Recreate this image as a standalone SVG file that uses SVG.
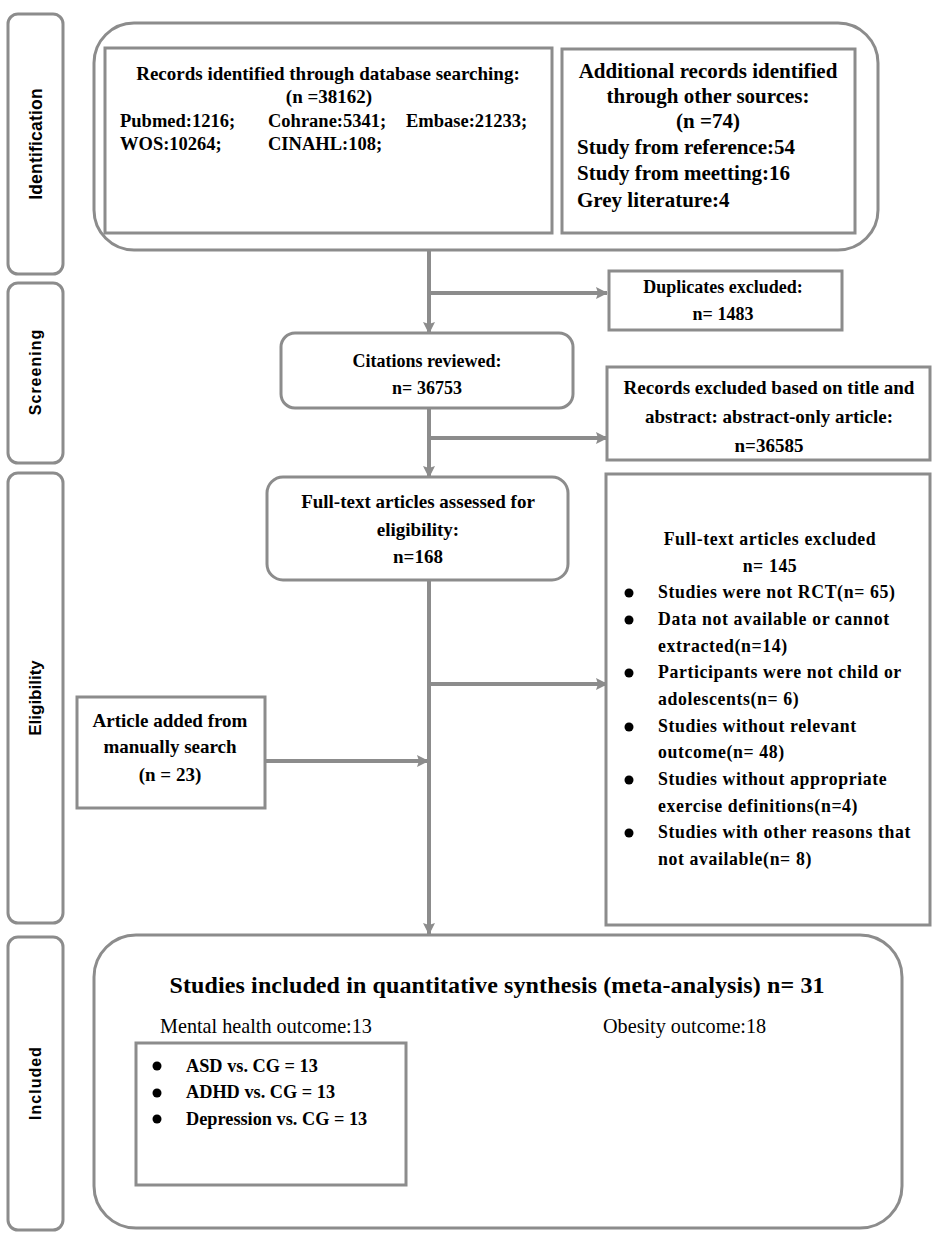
<svg xmlns="http://www.w3.org/2000/svg" width="935" height="1233" viewBox="0 0 935 1233">
<style>
.box{fill:#fff;stroke:#8c8c8c;stroke-width:3}
.side{fill:#fff;stroke:#8c8c8c;stroke-width:3}
.ln{fill:none;stroke:#8c8c8c;stroke-width:4}
.t{font-family:"Liberation Serif","Times New Roman",serif;font-weight:bold;fill:#000}
.tn{font-family:"Liberation Serif","Times New Roman",serif;fill:#000}
.c{text-anchor:middle}
.lab{font-family:"Liberation Sans",Arial,sans-serif;font-weight:bold;fill:#000;text-anchor:middle}
</style>
<defs>
<marker id="ah" viewBox="0 0 12 12" refX="11" refY="6" markerWidth="12" markerHeight="12" markerUnits="userSpaceOnUse" orient="auto">
<path d="M0,0 L12,6 L0,12 L2,6 Z" fill="#8c8c8c"/>
</marker>
</defs>
<g id="side-identification"><rect class="side" x="8" y="14" width="55" height="260" rx="10"/><text class="lab" font-size="17.5" letter-spacing="0.2" transform="translate(42,144) rotate(-90)">Identification</text></g>
<g id="side-screening"><rect class="side" x="8" y="283" width="55" height="180" rx="10"/><text class="lab" font-size="16" letter-spacing="1" transform="translate(41,372) rotate(-90)">Screening</text></g>
<g id="side-eligibility"><rect class="side" x="8" y="473" width="55" height="450" rx="10"/><text class="lab" font-size="17" transform="translate(41,698) rotate(-90)">Eligibility</text></g>
<g id="side-included"><rect class="side" x="8" y="937" width="55" height="293" rx="10"/><text class="lab" font-size="16" letter-spacing="1" transform="translate(41,1083) rotate(-90)">Included</text></g>

<g id="connectors">
<line class="ln" x1="429" y1="250" x2="429" y2="333" marker-end="url(#ah)"/>
<line class="ln" x1="429" y1="293" x2="607" y2="293" marker-end="url(#ah)"/>
<line class="ln" x1="429" y1="408" x2="429" y2="477" marker-end="url(#ah)"/>
<line class="ln" x1="429" y1="438" x2="607" y2="438" marker-end="url(#ah)"/>
<line class="ln" x1="429" y1="580" x2="429" y2="934" marker-end="url(#ah)"/>
<line class="ln" x1="429" y1="684" x2="607" y2="684" marker-end="url(#ah)"/>
<line class="ln" x1="265" y1="761" x2="428" y2="761" marker-end="url(#ah)"/>
</g>

<g id="identification">
<rect class="box" x="94" y="23" width="784" height="227" rx="40"/>
</g>
<g id="records-database">
<rect class="box" x="105" y="48" width="447" height="185"/>
<g class="t" font-size="19">
<text class="c" x="328" y="80">Records identified through database searching:</text>
<text class="c" x="329" y="103">(n =38162)</text>
</g>
<g class="t" font-size="18.5">
<text x="120" y="127">Pubmed:1216;</text>
<text x="268" y="127">Cohrane:5341;</text>
<text x="406" y="127">Embase:21233;</text>
<text x="120" y="150">WOS:10264;</text>
<text x="268" y="150">CINAHL:108;</text>
</g>
</g>
<g id="records-other">
<rect class="box" x="562" y="49" width="293" height="184"/>
<g class="t" font-size="21">
<text class="c" x="708" y="78">Additional records identified</text>
<text class="c" x="708" y="103">through other sources:</text>
<text class="c" x="708" y="128">(n =74)</text>
<text x="577" y="154">Study from reference:54</text>
<text x="577" y="180">Study from meetting:16</text>
<text x="577" y="207">Grey literature:4</text>
</g>
</g>
<g id="duplicates">
<rect class="box" x="609" y="271" width="233" height="59"/>
<g class="t" font-size="18">
<text class="c" x="723" y="293">Duplicates excluded:</text>
<text class="c" x="723" y="320">n= 1483</text>
</g>
</g>
<g id="citations">
<rect class="box" x="281" y="333" width="292" height="75" rx="14"/>
<g class="t" font-size="18">
<text class="c" x="427" y="367">Citations reviewed:</text>
<text class="c" x="427" y="394">n= 36753</text>
</g>
</g>
<g id="records-excluded">
<rect class="box" x="607" y="367" width="323" height="93"/>
<g class="t" font-size="19">
<text class="c" x="769" y="394">Records excluded based on title and</text>
<text class="c" x="769" y="423">abstract: abstract-only article:</text>
<text class="c" x="769" y="452">n=36585</text>
</g>
</g>
<g id="fulltext-assessed">
<rect class="box" x="267" y="477" width="301" height="103" rx="16"/>
<g class="t" font-size="19">
<text class="c" x="418" y="508">Full-text articles assessed for</text>
<text class="c" x="418" y="536">eligibility:</text>
<text class="c" x="418" y="563">n=168</text>
</g>
</g>
<g id="fulltext-excluded">
<rect class="box" x="606" y="474" width="324" height="451"/>
<g class="t" font-size="17.8" letter-spacing="0.6">
<text class="c" x="770" y="545">Full-text articles excluded</text>
<text class="c" x="770" y="572">n= 145</text>
<text x="658" y="598">Studies were not RCT(n= 65)</text>
<text x="658" y="625">Data not available or cannot</text>
<text x="658" y="652">extracted(n=14)</text>
<text x="658" y="678">Participants were not child or</text>
<text x="658" y="705">adolescents(n= 6)</text>
<text x="658" y="732">Studies without relevant</text>
<text x="658" y="758">outcome(n= 48)</text>
<text x="658" y="785">Studies without appropriate</text>
<text x="658" y="812">exercise definitions(n=4)</text>
<text x="658" y="838">Studies with other reasons that</text>
<text x="658" y="865">not available(n= 8)</text>
</g>
<circle cx="629" cy="593" r="4.5"/>
<circle cx="629" cy="620" r="4.5"/>
<circle cx="629" cy="673" r="4.5"/>
<circle cx="629" cy="727" r="4.5"/>
<circle cx="629" cy="780" r="4.5"/>
<circle cx="629" cy="833" r="4.5"/>
</g>
<g id="manual-search">
<rect class="box" x="77" y="697" width="188" height="111"/>
<g class="t" font-size="19">
<text class="c" x="170" y="727">Article added from</text>
<text class="c" x="170" y="753">manually search</text>
<text class="c" x="170" y="781">(n = 23)</text>
</g>
</g>
<g id="included">
<rect class="box" x="94" y="935" width="808" height="293" rx="42"/>
<text class="t c" x="497" y="993" font-size="24" textLength="655" lengthAdjust="spacing">Studies included in quantitative synthesis (meta-analysis) n= 31</text>
<g class="tn" font-size="20.2">
<text x="160" y="1033">Mental health outcome:13</text>
<text x="603" y="1033">Obesity outcome:18</text>
</g>
</g>
<g id="mental-health">
<rect class="box" x="136" y="1043" width="270" height="142"/>
<circle cx="157" cy="1066" r="4.5"/>
<circle cx="157" cy="1093" r="4.5"/>
<circle cx="157" cy="1119" r="4.5"/>
<g class="t" font-size="18.3">
<text x="186" y="1072">ASD vs. CG = 13</text>
<text x="186" y="1098">ADHD vs. CG = 13</text>
<text x="186" y="1125">Depression vs. CG = 13</text>
</g>
</g>
</svg>
